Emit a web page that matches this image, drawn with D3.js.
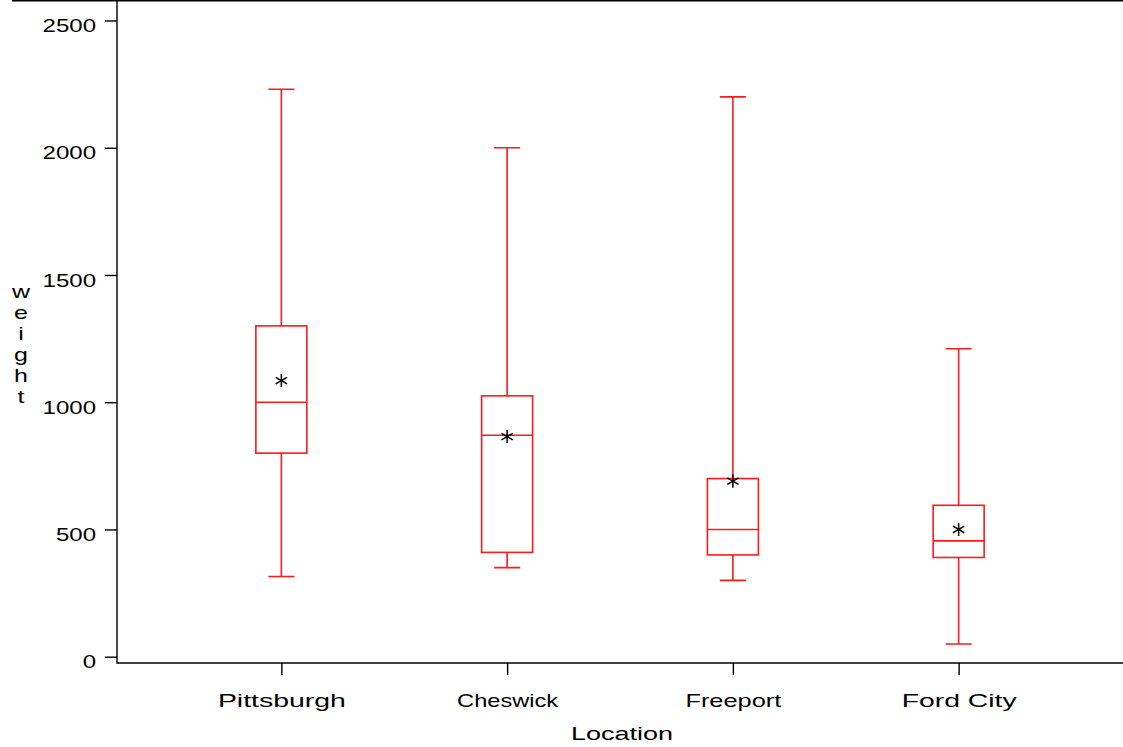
<!DOCTYPE html>
<html lang="en">
<head>
    <meta charset="UTF-8">
    <title>weight by Location</title>
    <script src="https://cdn.jsdelivr.net/npm/d3@7/dist/d3.min.js"></script>
    <style>
        body{ margin:0; background:#fff; }
        svg text{ font-family:"Liberation Sans", Arial, sans-serif; font-size:18.5px; fill:#000; }
        .frame{ stroke:#000; stroke-width:1.4; fill:none; }
        .box{ stroke:#ff1a1a; stroke-width:1.6; fill:none; }
    </style>
</head>
<body>
<script>
    // data
    var locations = ["Pittsburgh", "Cheswick", "Freeport", "Ford City"];
    var minVal    = [315, 350, 300, 50];
    var q1Val     = [800, 410, 400, 390];
    var medianVal = [1000, 870, 500, 455];
    var q3Val     = [1300, 1025, 700, 595];
    var maxVal    = [2230, 2000, 2200, 1210];
    var meanVal   = [1085, 865, 690, 500];
    var yTicks    = [0, 500, 1000, 1500, 2000, 2500];

    var width = 1123, height = 747;
    var left = 117, right = 1123, bottom = 663;

    // SAS fonts come out wide, stretch text to roughly the same width
    var labelWidth = {"Pittsburgh":128, "Cheswick":101, "Freeport":96, "Ford City":115, "Location":102};
    function stretch(sel, k){
        sel.each(function(){
            var t = d3.select(this), txt = t.text();
            var w = labelWidth[txt] || this.getComputedTextLength() * k;
            t.attr('textLength', w).attr('lengthAdjust', 'spacingAndGlyphs');
        });
    }

    var svg = d3.select('body').append('svg')
                .attr('width', width)
                .attr('height', height);

    var x = d3.scalePoint()
                .domain(locations)
                .range([left, right])
                .padding(0.728);

    var y = d3.scaleLinear()
                .domain([0, 2500])
                .range([656.7, 20.5]);

    // frame lines
    svg.append('path').attr('class','frame')
        .attr('d', 'M12,0.7H' + right);
    svg.append('path').attr('class','frame')
        .attr('d', 'M' + left + ',0V' + bottom + 'H' + right);

    // y axis
    var yAxis = svg.append('g')
        .attr('transform', 'translate(' + left + ',0)')
        .call(d3.axisLeft(y).tickValues(yTicks).tickSize(12).tickSizeOuter(0).tickFormat(d3.format('d')));
    yAxis.select('.domain').remove();
    yAxis.selectAll('.tick line').attr('stroke', '#000').attr('stroke-width', 1.4);
    yAxis.selectAll('.tick text')
        .attr('x', -21).attr('dy', '0.6em')
        .attr('font-size', null).attr('font-family', null)
        .call(stretch, 1.3);

    // x axis
    var xAxis = svg.append('g')
        .attr('transform', 'translate(0,' + bottom + ')')
        .call(d3.axisBottom(x).tickSize(12).tickSizeOuter(0));
    xAxis.select('.domain').remove();
    xAxis.selectAll('.tick line').attr('stroke', '#000').attr('stroke-width', 1.4);
    xAxis.selectAll('.tick text')
        .attr('y', 44).attr('dy', 0)
        .attr('font-size', null).attr('font-family', null)
        .call(stretch, 1.3);

    // axis titles
    svg.append('text')
        .attr('x', (left + right) / 2 + 2)
        .attr('y', 740)
        .attr('text-anchor', 'middle')
        .text('Location')
        .call(stretch, 1.3);

    svg.append('g').selectAll('text')
        .data('weight'.split(''))
        .enter().append('text')
        .attr('x', 21)
        .attr('y', function(d, i){ return 298 + i * 21; })
        .attr('text-anchor', 'middle')
        .text(function(d){ return d; })
        .call(stretch, 1.35);

    // boxes
    var boxHalf = 25.5, capHalf = 13;
    var stats = locations.map(function(d, i){
        return {name:d, min:minVal[i], q1:q1Val[i], med:medianVal[i], q3:q3Val[i], max:maxVal[i], mean:meanVal[i]};
    });

    var g = svg.append('g').selectAll('.boxplot')
        .data(stats)
        .enter().append('g')
        .attr('class', 'boxplot')
        .attr('transform', function(d){ return 'translate(' + x(d.name) + ',0)'; });

    g.append('path').attr('class', 'box')
        .attr('d', function(d){
            return 'M0,' + y(d.max) + 'V' + y(d.q3) +
                   'M0,' + y(d.q1) + 'V' + y(d.min) +
                   'M' + (-capHalf) + ',' + y(d.max) + 'H' + capHalf +
                   'M' + (-capHalf) + ',' + y(d.min) + 'H' + capHalf;
        });

    g.append('rect').attr('class', 'box')
        .attr('x', -boxHalf)
        .attr('width', boxHalf * 2)
        .attr('y', function(d){ return y(d.q3); })
        .attr('height', function(d){ return y(d.q1) - y(d.q3); });

    g.append('path').attr('class', 'box')
        .attr('d', function(d){ return 'M' + (-boxHalf) + ',' + y(d.med) + 'H' + boxHalf; });

    g.append('path')
        .attr('transform', function(d){ return 'translate(0,' + y(d.mean) + ')'; })
        .attr('d', d3.symbol().type(d3.symbolAsterisk).size(120))
        .attr('stroke', '#000')
        .attr('stroke-width', 1.5)
        .attr('fill', 'none');
</script>
</body>
</html>
